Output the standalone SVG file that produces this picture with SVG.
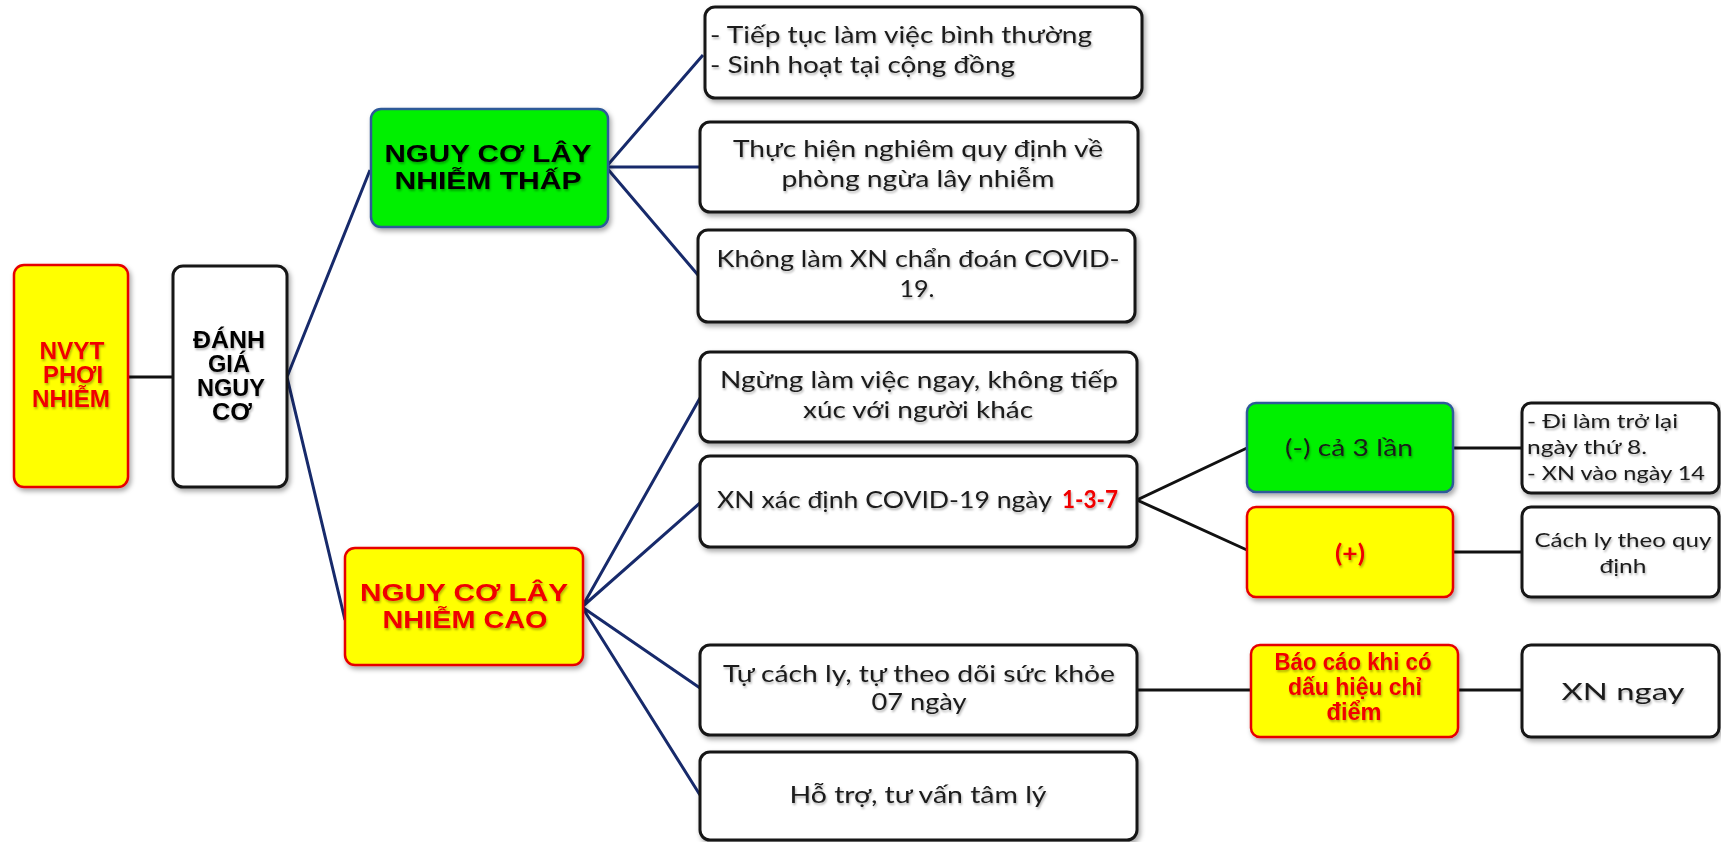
<svg xmlns="http://www.w3.org/2000/svg" width="1721" height="842" viewBox="0 0 1721 842">
<defs>
<filter id="bs" x="-10%" y="-10%" width="125%" height="130%"><feDropShadow dx="2" dy="3" stdDeviation="2.5" flood-color="#000" flood-opacity="0.35"/></filter>
<filter id="ts" x="-5%" y="-20%" width="110%" height="150%"><feDropShadow dx="1" dy="2" stdDeviation="1" flood-color="#000" flood-opacity="0.3"/></filter>
<style>
.w{fill:#fff;stroke:#141414;stroke-width:3}
.y{fill:#ffff00;stroke:#e60000;stroke-width:2.5}
.g{fill:#00f000;stroke:#2d5a98;stroke-width:2.5}
.t{font-family:Lato,"Liberation Sans",sans-serif;font-size:24px;fill:#1a1a1a;filter:url(#ts)}
.s{font-size:20px}
.h{font-family:"Liberation Sans",Arial,sans-serif;font-weight:bold;font-size:24px;fill:#000;filter:url(#ts)}
.r{fill:#f00000}
.c{text-anchor:middle}
.nv{fill:none;stroke:#172a6b;stroke-width:3}
.bk{fill:none;stroke:#111;stroke-width:3}
</style>
</defs>
<g id="connectors">
<line class="bk" x1="128" y1="377" x2="173" y2="377"/>
<path class="nv" d="M370,170 L287,377 L345,620"/>
<path class="nv" d="M703,55 L606,167 L700,167 M606,167 L698,275"/>
<path class="nv" d="M700,398 L582,607 L700,503 M582,607 L700,688 M582,607 L700,795"/>
<path class="bk" d="M1247,448 L1137,500 L1247,550"/>
<line class="bk" x1="1453" y1="448" x2="1522" y2="448"/>
<line class="bk" x1="1453" y1="552" x2="1522" y2="552"/>
<line class="bk" x1="1137" y1="690" x2="1251" y2="690"/>
<line class="bk" x1="1458" y1="690" x2="1522" y2="690"/>
</g>
<g id="nvyt">
<rect class="y" x="14" y="265" width="114" height="222" rx="10" filter="url(#bs)"/>
<text class="h r c" font-size="19" x="72" y="359" textLength="65" lengthAdjust="spacingAndGlyphs">NVYT</text>
<text class="h r c" font-size="19" x="73" y="383" textLength="60" lengthAdjust="spacingAndGlyphs">PHƠI</text>
<text class="h r c" font-size="19" x="71" y="407" textLength="78" lengthAdjust="spacingAndGlyphs">NHIỄM</text>
</g>
<g id="danhgia">
<rect class="w" x="173" y="266" width="114" height="221" rx="10" filter="url(#bs)"/>
<text class="h c" font-size="19" x="229" y="348" textLength="72" lengthAdjust="spacingAndGlyphs">ĐÁNH</text>
<text class="h c" font-size="19" x="229" y="372" textLength="42" lengthAdjust="spacingAndGlyphs">GIÁ</text>
<text class="h c" font-size="19" x="231" y="396" textLength="68" lengthAdjust="spacingAndGlyphs">NGUY</text>
<text class="h c" font-size="19" x="232" y="420" textLength="40" lengthAdjust="spacingAndGlyphs">CƠ</text>
</g>
<g id="thap">
<rect class="g" x="371" y="109" width="237" height="118" rx="10" filter="url(#bs)"/>
<text class="h c" x="488" y="162" textLength="207" lengthAdjust="spacingAndGlyphs">NGUY CƠ LÂY</text>
<text class="h c" x="488" y="189" textLength="187" lengthAdjust="spacingAndGlyphs">NHIỄM THẤP</text>
</g>
<g id="cao">
<rect class="y" x="345" y="548" width="238" height="117" rx="10" filter="url(#bs)"/>
<text class="h r c" x="464" y="601" textLength="208" lengthAdjust="spacingAndGlyphs">NGUY CƠ LÂY</text>
<text class="h r c" x="465" y="628" textLength="165" lengthAdjust="spacingAndGlyphs">NHIỄM CAO</text>
</g>
<g id="b1">
<rect class="w" x="705" y="7" width="437" height="91" rx="10" filter="url(#bs)"/>
<text class="t" x="710" y="43" textLength="382" lengthAdjust="spacingAndGlyphs">- Tiếp tục làm việc bình thường</text>
<text class="t" x="710" y="73" textLength="305" lengthAdjust="spacingAndGlyphs">- Sinh hoạt tại cộng đồng</text>
</g>
<g id="b2">
<rect class="w" x="700" y="122" width="438" height="90" rx="10" filter="url(#bs)"/>
<text class="t c" x="918" y="157" textLength="370" lengthAdjust="spacingAndGlyphs">Thực hiện nghiêm quy định về</text>
<text class="t c" x="918" y="187" textLength="273" lengthAdjust="spacingAndGlyphs">phòng ngừa  lây nhiễm</text>
</g>
<g id="b3">
<rect class="w" x="698" y="230" width="437" height="92" rx="10" filter="url(#bs)"/>
<text class="t c" x="918" y="267" textLength="403" lengthAdjust="spacingAndGlyphs">Không làm XN chẩn đoán COVID-</text>
<text class="t c" x="917" y="297" textLength="35" lengthAdjust="spacingAndGlyphs">19.</text>
</g>
<g id="b4">
<rect class="w" x="700" y="352" width="437" height="90" rx="10" filter="url(#bs)"/>
<text class="t c" x="919" y="388" textLength="398" lengthAdjust="spacingAndGlyphs">Ngừng làm việc ngay, không tiếp</text>
<text class="t c" x="918" y="418" textLength="230" lengthAdjust="spacingAndGlyphs">xúc với người khác</text>
</g>
<g id="b5">
<rect class="w" x="700" y="456" width="437" height="91" rx="10" filter="url(#bs)"/>
<text class="t" y="508"><tspan x="717" textLength="335" lengthAdjust="spacingAndGlyphs">XN xác định COVID-19  ngày</tspan><tspan x="1062" textLength="56" lengthAdjust="spacingAndGlyphs" font-weight="bold" fill="#f00000">1-3-7</tspan></text>
</g>
<g id="b6">
<rect class="w" x="700" y="645" width="437" height="90" rx="10" filter="url(#bs)"/>
<text class="t c" x="919" y="682" textLength="392" lengthAdjust="spacingAndGlyphs">Tự cách ly, tự theo dõi sức khỏe</text>
<text class="t c" x="919" y="710" textLength="95" lengthAdjust="spacingAndGlyphs">07 ngày</text>
</g>
<g id="b7">
<rect class="w" x="700" y="752" width="437" height="88" rx="10" filter="url(#bs)"/>
<text class="t c" x="918" y="803" textLength="257" lengthAdjust="spacingAndGlyphs">Hỗ trợ, tư vấn tâm lý</text>
</g>
<g id="neg">
<rect class="g" x="1247" y="403" width="206" height="89" rx="9" filter="url(#bs)"/>
<text class="t c" font-size="24" x="1349" y="456" textLength="128" lengthAdjust="spacingAndGlyphs">(-) cả 3 lần</text>
</g>
<g id="pos">
<rect class="y" x="1247" y="507" width="206" height="90" rx="9" filter="url(#bs)"/>
<text class="t c r" font-size="22" font-weight="bold" x="1350" y="562" textLength="30" lengthAdjust="spacingAndGlyphs">(+)</text>
</g>
<g id="dilam">
<rect class="w" x="1522" y="403" width="197" height="90" rx="9" filter="url(#bs)"/>
<text class="t s" x="1527" y="428" textLength="151" lengthAdjust="spacingAndGlyphs">- Đi làm trở lại</text>
<text class="t s" x="1527" y="454" textLength="120" lengthAdjust="spacingAndGlyphs">ngày thứ 8.</text>
<text class="t s" x="1527" y="480" textLength="178" lengthAdjust="spacingAndGlyphs">- XN vào ngày 14</text>
</g>
<g id="cachly">
<rect class="w" x="1522" y="507" width="197" height="90" rx="9" filter="url(#bs)"/>
<text class="t s c" x="1623" y="547" textLength="177" lengthAdjust="spacingAndGlyphs">Cách ly theo quy</text>
<text class="t s c" x="1623" y="573" textLength="47" lengthAdjust="spacingAndGlyphs">định</text>
</g>
<g id="baocao">
<rect class="y" x="1251" y="645" width="207" height="92" rx="9" filter="url(#bs)"/>
<text class="h r c" font-size="18" x="1353" y="670" textLength="157" lengthAdjust="spacingAndGlyphs">Báo cáo khi có</text>
<text class="h r c" font-size="18" x="1355" y="695" textLength="134" lengthAdjust="spacingAndGlyphs">dấu hiệu chỉ</text>
<text class="h r c" font-size="18" x="1354" y="720" textLength="55" lengthAdjust="spacingAndGlyphs">điểm</text>
</g>
<g id="xnngay">
<rect class="w" x="1522" y="645" width="197" height="92" rx="9" filter="url(#bs)"/>
<text class="t c" font-size="27" x="1623" y="700" textLength="123" lengthAdjust="spacingAndGlyphs">XN ngay</text>
</g>
</svg>
